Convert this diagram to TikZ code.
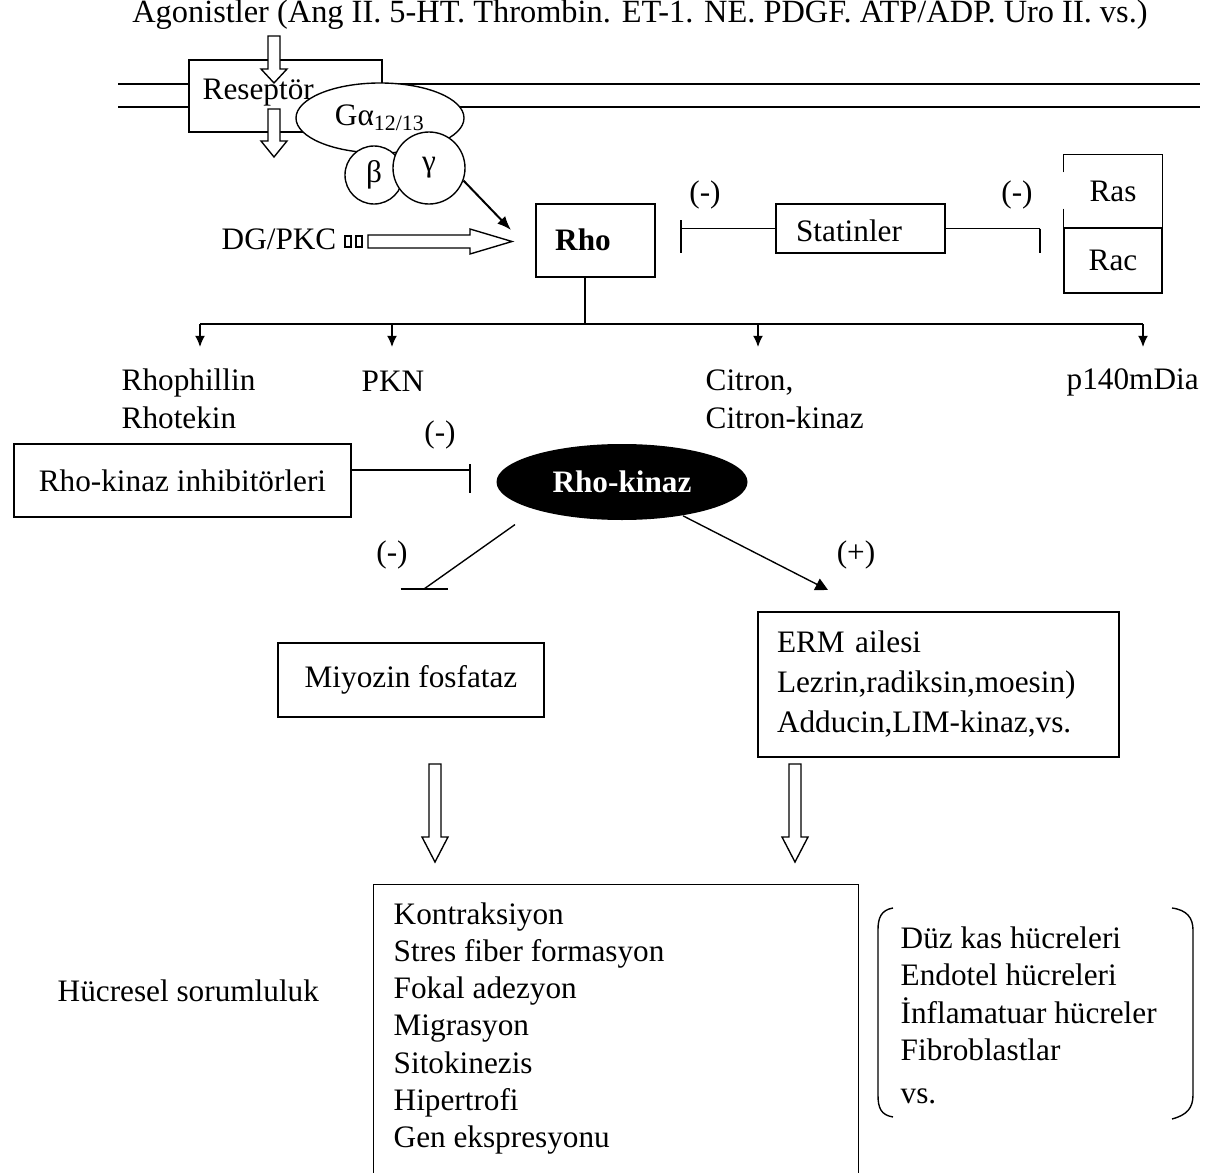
\documentclass[tikz,border=0pt]{standalone}
\usepackage{fontspec}
\setmainfont{Liberation Serif}
\usetikzlibrary{shapes.geometric}
\usetikzlibrary{arrows.meta}

\newcommand{\diagfont}{\fontsize{12.5pt}{15pt}\selectfont}

\tikzset{
  box/.style={draw, fill=white, inner sep=0pt},
  lbl/.style={inner sep=0pt},
  tip/.style={-{Latex[length=4.5pt,width=4pt]}},
  pics/hdown/.style n args={4}{code={
    \draw[fill=white] (-#2,0) -- (#2,0) -- (#2,#1-#4) -- (#3,#1-#4) -- (0,#1)
      -- (-#3,#1-#4) -- (-#2,#1-#4) -- cycle;
  }},
  pics/hright/.style n args={4}{code={
    \draw[fill=white] (0,-#2) -- (#1-#4,-#2) -- (#1-#4,-#3) -- (#1,0)
      -- (#1-#4,#3) -- (#1-#4,#2) -- (0,#2) -- cycle;
  }},
}

\begin{document}
\begin{tikzpicture}[x=0.4pt, y=-0.4pt, line width=0.55pt,
  every node/.style={font=\diagfont}]
    \useasboundingbox (0,0) rectangle (1222,1173);
    % Agonists
    \node (ago) [lbl, font=\fontsize{12.95pt}{15pt}\selectfont] at (640,15) {Agonistler (Ang II. 5-HT. Thrombin. ET-1. NE. PDGF. ATP/ADP. Uro II. vs.)};
    % Membrane
    \draw (118,84) -- (1200,84);
    \draw (118,107) -- (1200,107);
    % Receptor
    \node (rec) [box, minimum width=77.2pt, minimum height=28.8pt] at (285.5,96) {};
    \node (rectxt) [lbl, anchor=west] at (202,93) {Reseptör};
    \pic at (274,36) {hdown={47}{6}{13}{14}};
    \pic at (274,109) {hdown={48}{6}{13}{16}};
    % G protein
    \node (ga) [ellipse, box, minimum width=67.2pt, minimum height=28pt] at (380,118) {Gα\textsubscript{12/13}};
    \node (bet) [circle, box, minimum size=23.2pt] at (374,175) {β};
    \node (gam) [circle, box, minimum size=28.8pt] at (429,168) {γ};
    \coordinate (rhoin) at (511,230);
    \draw[-{Latex[length=5.6pt,width=4.4pt]}, line width=0.8pt] (gam.-20) -- (rhoin);
    % DG/PKC
    \node (dg) [lbl, anchor=east] at (337,239) {DG/PKC};
    \foreach \x in {345,356}
        \draw[fill=white] (\x,236) rectangle ++(6,11);
    \pic at (368,241.5) {hright={144}{6.5}{12.5}{42}};
    % Rho
    \node (rho) [box, minimum width=47.6pt, minimum height=29.2pt] at (595.5,240.5) {};
    \node (rhotxt) [lbl, font=\diagfont\bfseries] at (583,240) {Rho};
    % Statins
    \node (stat) [box, minimum width=67.6pt, minimum height=19.6pt] at (860.5,228.5) {};
    \node (stattxt) [lbl] at (849,231) {Statinler};
    \coordinate (barL) at (681,228.5);
    \coordinate (barR) at (1040,228.5);
    \draw (stat.west) -- (barL);
    \draw ([yshift=3.4pt]barL) -- ([yshift=-9.8pt]barL);
    \draw (stat.east) -- (barR);
    \draw (barR) -- ([yshift=-9.8pt]barR);
    \node (mL) [lbl] at (705,195) {(-)};
    \node (mR) [lbl] at (1017,195) {(-)};
    % Ras / Rac
    \node (ras) [lbl, minimum width=39.2pt, minimum height=29.2pt] at (1113,191.5) {Ras};
    \node (rac) [box, minimum width=39.2pt, minimum height=26pt] at (1113,260.5) {Rac};
    \draw ([yshift=-7.2pt]ras.north west) -- (ras.north west) -- (ras.north east) -- (ras.south east);
    \draw ([yshift=8pt]ras.south west) -- (ras.south west);
    % Rho effectors
    \coordinate (hub) at (585,324);
    \coordinate (eA) at (200,347);
    \coordinate (eB) at (392,347);
    \coordinate (eC) at (758,347);
    \coordinate (eD) at (1143,347);
    \draw (hub |- rho.south) -- (hub);
    \draw (eA |- hub) -- (eD |- hub);
    \foreach \e in {eA,eB,eC,eD}
        \draw[tip] (\e |- hub) -- (\e);
    \node (rph) [lbl, anchor=west, align=left, font=\fontsize{12.5pt}{15.2pt}\selectfont] at (121,399) {Rhophillin\\Rhotekin};
    \node (pkn) [lbl, anchor=west] at (361,381) {PKN};
    \node (cit) [lbl, anchor=west, align=left, font=\fontsize{12.5pt}{15.2pt}\selectfont] at (705,399) {Citron,\\Citron-kinaz};
    \node (mdia) [lbl, anchor=west] at (1066,382) {p140mDia};
    % Rho-kinase
    \node (inh) [box, minimum width=134.8pt, minimum height=29.2pt] at (182.5,480.5) {Rho-kinaz inhibitörleri};
    \node (rk) [ellipse, fill=black, text=white, inner sep=0pt, minimum width=100.4pt, minimum height=30.4pt, font=\diagfont\bfseries] at (622,482) {Rho-kinaz};
    \coordinate (barK) at (470,470);
    \draw (inh.east |- barK) -- (barK);
    \draw ([yshift=2.4pt]barK) -- ([yshift=-9.2pt]barK);
    \node (mK) [lbl] at (440,435) {(-)};
    % Targets
    \coordinate (barM) at (424,589);
    \draw[shorten <=10pt] (rk.198) -- (barM);
    \draw[line width=0.9pt] ([xshift=-9.4pt]barM) -- ([xshift=9.4pt]barM);
    \node (mM) [lbl] at (392,555) {(-)};
    \coordinate (ermtip) at (828,590);
    \draw[-{Triangle[length=5pt,width=5pt]}] (rk.-29) -- (ermtip);
    \node (pE) [lbl] at (856,555) {(+)};
    \node (mf) [box, minimum width=106.4pt, minimum height=29.6pt] at (411,680) {Miyozin fosfataz};
    \node (erm) [box, minimum width=144.4pt, minimum height=58pt, text width=129.2pt, inner xsep=7.6pt, align=left, font=\fontsize{12.5pt}{16pt}\selectfont] at (938.5,684.5) {ERM ailesi\\Lezrin,radiksin,moesin)\\Adducin,LIM-kinaz,vs.};
    \pic at (435,764) {hdown={98}{6}{13}{25}};
    \pic at (795,764) {hdown={98}{6}{13}{25}};
    % Cellular response
    \node (res) [box, anchor=north west, minimum width=194pt, minimum height=124pt] at (373,884) {};
    \node (restxt) [lbl, anchor=west, align=left, font=\fontsize{12.5pt}{14.9pt}\selectfont] at (393,1028.5) {Kontraksiyon\\Stres fiber formasyon\\Fokal adezyon\\Migrasyon\\Sitokinezis\\Hipertrofi\\Gen ekspresyonu};
    \node (hs) [lbl, anchor=west] at (57,991) {Hücresel sorumluluk};
    % Cell types
    \node (cells) [lbl, anchor=west, align=left, font=\fontsize{12.5pt}{15pt}\selectfont] at (900,1015) {Düz kas hücreleri\\Endotel hücreleri\\İnflamatuar hücreler\\Fibroblastlar\\[2pt]vs.};
    \draw (893,908) .. controls (881,910) and (878,918) .. (878,930) -- (878,1095) .. controls (878,1108) and (881,1115) .. (893,1117);
    \draw (1172,908) .. controls (1187,910) and (1193,918) .. (1193,930) -- (1193,1095) .. controls (1193,1108) and (1187,1115) .. (1172,1119);
\end{tikzpicture}
\end{document}
